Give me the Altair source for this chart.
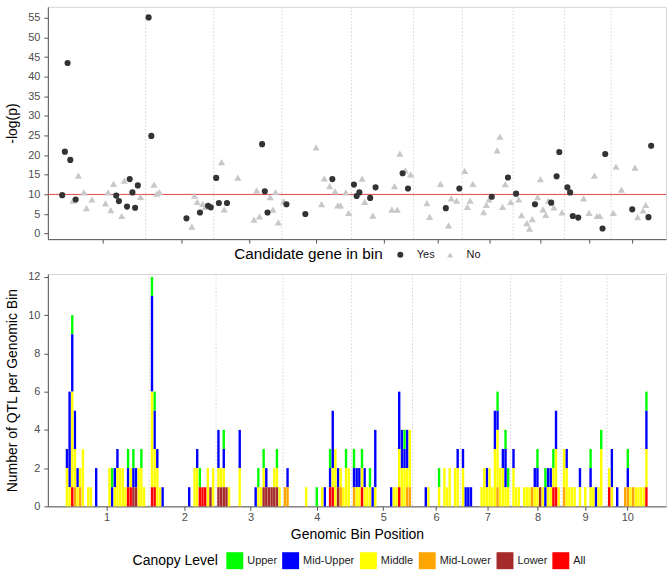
import altair as alt
import pandas as pd

# ---------------- data ----------------
# x positions are genomic bin indices (continuous position along the genome)
chrom_bounds = [35.9, 61.1, 86.3, 112.1, 135.0, 153.1, 171.9, 190.9, 208.2]
tick_pos = [19.9, 49.2, 74.1, 99.0, 124.0, 143.9, 163.1, 182.0, 199.9, 215.8]
tick_lab = ["1", "2", "3", "4", "5", "6", "7", "8", "9", "10"]

# top panel: -log(p) for bins with / without a candidate gene
yes_bin = [5, 6, 7, 8, 10, 25, 26, 29, 30, 31, 32, 33, 37, 38, 51, 56, 59, 60, 62, 63,
           66, 79, 80, 81, 88, 95, 105, 113, 114, 115, 119, 121, 131, 133, 147, 152,
           164, 170, 173, 180, 186, 188, 189, 192, 193, 194, 196, 205, 206, 216, 222, 223]
yes_val = [9.8, 20.9, 43.5, 18.8, 8.7, 9.7, 8.3, 6.9, 13.9, 10.5, 6.6, 12.3, 55.1, 24.9, 3.9, 5.4, 7.1, 6.7, 14.2, 7.8,
           7.8, 22.8, 10.8, 5.4, 7.5, 5.0, 13.9, 12.5, 9.6, 10.5, 9.1, 11.8, 15.4, 11.5, 6.5, 11.5,
           9.4, 14.3, 10.2, 7.5, 7.9, 14.6, 20.8, 11.8, 10.5, 4.5, 4.1, 1.3, 20.3, 6.2, 4.2, 22.4]
no_bin = [9, 11, 13, 14, 16, 21, 22, 23, 24, 27, 28, 34, 39, 40, 41, 53, 54, 55, 57, 58,
          64, 65, 70, 76, 77, 78, 82, 83, 84, 85, 87, 99, 101, 102, 104, 106, 107, 108, 110, 111,
          116, 117, 120, 127, 128, 129, 130, 132, 134, 140, 141, 145, 148, 149, 151, 154, 155, 156, 157, 161,
          162, 163, 166, 167, 168, 169, 171, 174, 175, 177, 178, 179, 181, 182, 183, 184, 185, 187, 190, 198,
          200, 202, 203, 204, 209, 210, 212, 217, 218, 220, 221]
no_val = [8.4, 14.8, 10.5, 6.5, 8.7, 7.7, 10.5, 6.0, 12.7, 4.5, 13.5, 9.4, 12.5, 10.2, 10.6, 1.8, 9.7, 8.1, 7.6, 6.8,
          18.2, 6.2, 14.3, 3.6, 11.0, 4.4, 9.3, 6.1, 10.6, 2.9, 8.2, 22.0, 7.5, 14.1, 12.1, 10.8, 7.2, 7.2, 10.5, 5.3,
          14.0, 8.1, 4.6, 6.1, 12.1, 6.1, 20.4, 16.1, 15.1, 7.8, 4.3, 12.7, 2.1, 9.0, 8.4, 16.0, 6.8, 8.4, 12.7, 5.5,
          7.3, 8.7, 21.2, 24.7, 6.8, 12.6, 8.1, 8.7, 4.7, 2.7, 1.3, 3.7, 9.3, 13.9, 6.2, 4.8, 8.4, 6.7, 5.4, 9.0,
          5.3, 14.8, 4.5, 4.5, 5.3, 17.1, 11.2, 16.8, 4.2, 5.9, 7.3]
threshold = 10

# bottom panel: number of QTL per bin, by canopy level  {bin: count}
upper = {7: 1, 22: 1, 28: 1, 30: 1, 33: 1, 37: 1, 38: 1, 55: 1, 64: 1, 77: 1, 79: 1, 84: 1, 99: 1,
         104: 1, 110: 1, 113: 1, 116: 1, 119: 1, 132: 1, 145: 1, 167: 1, 170: 1, 171: 1, 182: 1,
         185: 1, 188: 1, 202: 1, 206: 1, 216: 1, 223: 1}
mid_upper = {5: 1, 6: 5, 7: 3, 8: 2, 9: 1, 16: 2, 22: 1, 23: 1, 24: 1, 28: 1, 30: 1, 31: 1, 37: 5,
             38: 2, 39: 1, 41: 1, 51: 1, 54: 1, 62: 2, 64: 1, 70: 2, 76: 1, 80: 1, 88: 1, 102: 1,
             104: 1, 105: 3, 107: 1, 113: 1, 114: 1, 115: 1, 117: 1, 120: 1, 121: 3, 127: 1, 130: 3,
             131: 2, 132: 1, 133: 2, 140: 1, 152: 1, 154: 1, 155: 1, 156: 1, 157: 1, 163: 1, 166: 2,
             167: 1, 169: 1, 170: 2, 173: 1, 181: 1, 182: 1, 185: 1, 186: 1, 187: 1, 189: 2, 193: 1,
             198: 1, 202: 1, 204: 1, 210: 2, 212: 1, 216: 1, 223: 2}
middle = {5: 2, 6: 1, 7: 5, 8: 2, 9: 1, 10: 1, 11: 3, 13: 1, 14: 1, 21: 2, 23: 1, 24: 2, 25: 2,
          26: 2, 27: 1, 29: 1, 32: 2, 33: 2, 34: 1, 37: 5, 38: 2, 39: 2, 40: 1, 53: 2, 54: 2, 58: 2,
          60: 2, 62: 1, 63: 1, 64: 1, 66: 1, 70: 2, 77: 1, 78: 1, 79: 1, 83: 1, 84: 1, 85: 1, 95: 1,
          101: 1, 105: 1, 106: 3, 108: 1, 109: 1, 110: 2, 111: 2, 114: 1, 115: 1, 116: 1, 117: 1,
          118: 1, 119: 1, 121: 1, 128: 1, 129: 1, 130: 2, 131: 2, 132: 2, 133: 1, 134: 3, 141: 1,
          145: 1, 147: 2, 148: 1, 149: 2, 151: 2, 152: 2, 154: 2, 161: 1, 162: 2, 163: 1, 164: 2,
          165: 1, 166: 3, 167: 3, 168: 2, 169: 2, 170: 1, 171: 1, 173: 2, 174: 1, 175: 1, 177: 1,
          178: 1, 179: 1, 181: 1, 182: 1, 184: 1, 186: 1, 187: 1, 188: 1, 189: 2, 190: 1, 192: 2,
          193: 2, 194: 1, 195: 1, 196: 1, 198: 1, 200: 1, 202: 1, 203: 1, 205: 1, 206: 3, 209: 1,
          210: 1, 217: 1, 219: 1, 220: 1, 221: 1, 222: 1, 223: 2}
mid_lower = {8: 1, 10: 1, 87: 1, 88: 1, 108: 1, 113: 1, 133: 1, 134: 1, 167: 1, 180: 1, 192: 1,
             215: 1, 216: 1, 218: 1}
lower = {30: 1, 31: 1, 59: 1, 62: 1, 63: 1, 64: 1, 65: 1, 79: 1, 80: 1, 81: 1, 82: 1, 83: 1,
         84: 1, 107: 1, 183: 1}
all_levels = {7: 1, 28: 1, 29: 1, 37: 1, 38: 1, 55: 1, 56: 1, 57: 1, 104: 1, 105: 1, 116: 1,
              130: 1, 188: 1, 189: 1, 209: 1, 223: 1}

levels = ["Upper", "Mid-Upper", "Middle", "Mid-Lower", "Lower", "All"]
level_colors = ["#00FF00", "#0000FF", "#FFFF00", "#FFA500", "#A52A2A", "#FF0000"]

# ---------------- tables ----------------
rows = []
for i, (lev, d) in enumerate(zip(levels, [upper, mid_upper, middle, mid_lower, lower, all_levels])):
    for b, n in d.items():
        rows.append({"bin": b, "level": lev, "n": n, "ord": len(levels) - 1 - i})
bars_df = pd.DataFrame(rows)
yes_df = pd.DataFrame({"bin": yes_bin, "val": yes_val, "cand": "Yes"})
no_df = pd.DataFrame({"bin": no_bin, "val": no_val, "cand": "No"})
bounds_df = pd.DataFrame({"pos": chrom_bounds})
thr_df = pd.DataFrame({"y": [threshold]})

FONT = "Liberation Sans"
W, H = 620, 233
xs = alt.Scale(domain=[-0.3, 228.5], nice=False, zero=False)
label_expr = "indexof(%s, datum.value) >= 0 ? %s[indexof(%s, datum.value)] : ''" % (
    str(tick_pos), str(tick_lab), str(tick_pos))

# ---------------- top panel ----------------
top_x_axis = alt.Axis(values=tick_pos, labels=False, title="", tickSize=4, grid=False)
top_y_axis = alt.Axis(values=list(range(0, 56, 5)), title="-log(p)", titlePadding=8,
                      tickSize=4, labelPadding=4, grid=False)
ys_top = alt.Scale(domain=[-1.4, 57.8], nice=False, zero=False)

cand_legend = alt.Legend(title="Candidate gene in bin", orient="none", legendX=187, legendY=243,
                         direction="horizontal", titleOrient="left", titleAnchor="middle",
                         titleBaseline="middle", titleFontSize=15.3, symbolSize=36, labelOffset=11,
                         columnPadding=10, titlePadding=12)
cand_color = alt.Scale(domain=["Yes", "No"], range=["#333333", "#c8c8c8"])
cand_shape = alt.Scale(domain=["Yes", "No"], range=["circle", "triangle-up"])

vl_top = alt.Chart(bounds_df).mark_rule(color="#cfcfcf", strokeWidth=0.9, strokeDash=[1.5, 2]).encode(
    x=alt.X("pos:Q", scale=xs, axis=top_x_axis))
thr_rule = alt.Chart(thr_df).mark_rule(color="#e04848", strokeWidth=1).encode(
    y=alt.Y("y:Q", scale=ys_top, axis=top_y_axis))
no_pts = alt.Chart(no_df).mark_point(filled=True, opacity=1, size=52).encode(
    x=alt.X("bin:Q", scale=xs, axis=top_x_axis),
    y=alt.Y("val:Q", scale=ys_top, axis=top_y_axis),
    color=alt.Color("cand:N", scale=cand_color, legend=cand_legend),
    shape=alt.Shape("cand:N", scale=cand_shape, legend=cand_legend))
yes_pts = alt.Chart(yes_df).mark_point(filled=True, opacity=1, size=38).encode(
    x=alt.X("bin:Q", scale=xs, axis=top_x_axis),
    y=alt.Y("val:Q", scale=ys_top, axis=top_y_axis),
    color=alt.Color("cand:N", scale=cand_color, legend=cand_legend),
    shape=alt.Shape("cand:N", scale=cand_shape, legend=cand_legend))
top = alt.layer(vl_top, thr_rule, no_pts, yes_pts).properties(width=W, height=H)

# ---------------- bottom panel ----------------
bot_x_axis = alt.Axis(values=tick_pos, labelExpr=label_expr, title="Genomic Bin Position",
                      tickSize=4, labelPadding=1, titlePadding=5, grid=False, labelFlush=False)
bot_y_axis = alt.Axis(values=list(range(0, 13, 2)), title="Number of QTL per Genomic Bin",
                      titlePadding=8, tickSize=4, labelPadding=4, grid=False)
canopy_legend = alt.Legend(title="Canopy Level", orient="none", legendX=85, legendY=279,
                           direction="horizontal", titleOrient="left", titleAnchor="middle",
                           titleBaseline="middle", symbolType="square", symbolSize=289,
                           symbolStrokeWidth=0, labelOffset=4, columnPadding=5, titlePadding=8)

vl_bot = alt.Chart(bounds_df).mark_rule(color="#cfcfcf", strokeWidth=0.9, strokeDash=[1.5, 2]).encode(
    x=alt.X("pos:Q", scale=xs, axis=bot_x_axis))
bars = alt.Chart(bars_df).mark_bar(size=2.4, opacity=1).encode(
    x=alt.X("bin:Q", scale=xs, axis=bot_x_axis),
    y=alt.Y("sum(n):Q", stack="zero", scale=alt.Scale(domain=[0, 12.15], nice=False, zero=True),
            axis=bot_y_axis),
    color=alt.Color("level:N", scale=alt.Scale(domain=levels, range=level_colors), legend=canopy_legend),
    order=alt.Order("ord:Q", sort="ascending"))
bottom = alt.layer(vl_bot, bars).properties(width=W, height=H)

chart = alt.vconcat(top, bottom, spacing=35, bounds="flush").resolve_scale(
    color="independent", shape="independent", x="independent", y="independent"
).resolve_legend(color="independent", shape="independent").properties(
    padding={"left": 5, "top": 5, "right": 5, "bottom": 5}
).configure_view(stroke="#d6d6d6", strokeWidth=1).configure_axis(
    domainColor="#555555", tickColor="#555555", labelColor="#4d4d4d", labelFont=FONT,
    titleFont=FONT, labelFontSize=11, titleFontSize=14, titleFontWeight="normal", titleColor="#000000"
).configure_legend(
    titleFont=FONT, labelFont=FONT, titleFontSize=14, titleFontWeight="normal", titleColor="#000000",
    labelFontSize=11, labelColor="#1a1a1a"
)

chart.save("out.html", embed_options={"renderer": "svg", "actions": False})
